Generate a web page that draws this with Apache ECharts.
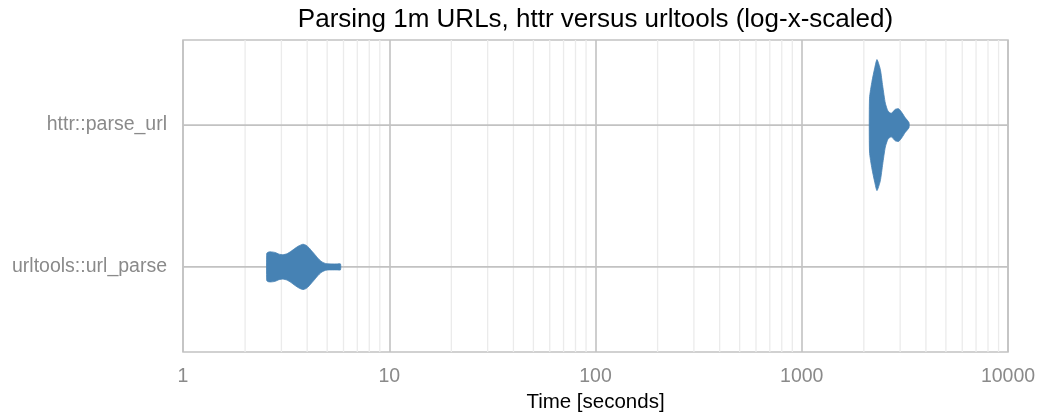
<!DOCTYPE html>
<html>
<head>
<meta charset="utf-8">
<script src="https://cdn.jsdelivr.net/npm/echarts@6/dist/echarts.min.js"></script>
<style>
html,body{margin:0;padding:0;background:#fff;}
#chart{width:1038px;height:412px;}
</style>
</head>
<body>
<div id="chart"></div>
<script>
// ---- data ----
const categories = ['urltools::url_parse', 'httr::parse_url'];
// violin outlines: time (seconds) and half-width (in category units)
const urltoolsTime  = [2.546, 2.584, 2.671, 2.793, 2.921, 3.054, 3.194, 3.340, 3.492, 3.651, 3.818, 3.948, 4.082, 4.222, 4.365, 4.513, 4.668, 4.826, 4.991, 5.278, 5.580, 5.802];
const urltoolsWidth = [0.095, 0.104, 0.106, 0.102, 0.090, 0.086, 0.093, 0.110, 0.131, 0.149, 0.160, 0.153, 0.135, 0.110, 0.086, 0.061, 0.040, 0.028, 0.022, 0.021, 0.021, 0.021];
const httrTime  = [2131, 2191, 2258, 2316, 2404, 2469, 2542, 2619, 2718, 2842, 2952, 3063, 3178, 3311];
const httrWidth = [0.190, 0.310, 0.402, 0.462, 0.393, 0.275, 0.155, 0.099, 0.083, 0.111, 0.115, 0.087, 0.051, 0.018];
const xTicks = [1, 10, 100, 1000, 10000];
const xMinorTicks = [2, 3, 4, 5, 6, 7, 8, 9, 20, 30, 40, 50, 60, 70, 80, 90, 200, 300, 400, 500, 600, 700, 800, 900, 2000, 3000, 4000, 5000, 6000, 7000, 8000, 9000];
const title = 'Parsing 1m URLs, httr versus urltools (log-x-scaled)';
const xName = 'Time [seconds]';

// category slots (ggplot-like expansion: 0.6 units each side)
const catPos = [3, 8];
const violins = [
  {time: urltoolsTime, width: urltoolsWidth},
  {time: httrTime, width: httrWidth}
];

const FONT = '"Liberation Sans", Arial, Helvetica, sans-serif';
const chart = echarts.init(document.getElementById('chart'));

chart.setOption({
  animation: false,
  backgroundColor: '#ffffff',
  graphic: [{
    type: 'text',
    x: 595.5, y: 20,
    style: {text: title, font: '26px ' + FONT, fill: '#000', align: 'center', verticalAlign: 'middle'}
  }],
  grid: {left: 183, right: 30, top: 40, bottom: 60, show: true, borderColor: '#c2c2c2', borderWidth: 1.5,
    backgroundColor: 'transparent', containLabel: false, outerBoundsMode: 'none'},
  xAxis: {
    type: 'log', logBase: 10, min: xTicks[0], max: xTicks[xTicks.length - 1],
    axisLine: {show: false}, axisTick: {show: false},
    splitLine: {show: true, lineStyle: {color: '#c2c2c2', width: 1.6}},
    axisLabel: {color: '#8a8a8a', fontSize: 19.5, fontFamily: FONT, margin: 15,
      formatter: v => String(Math.round(v))},
    name: xName, nameLocation: 'middle', nameGap: 37,
    nameTextStyle: {color: '#000', fontSize: 20.5, fontFamily: FONT}
  },
  yAxis: {
    type: 'value', min: 0, max: 11, interval: 1,
    axisLine: {show: false}, axisTick: {show: false}, splitLine: {show: false},
    axisLabel: {color: '#8a8a8a', fontSize: 19.5, fontFamily: FONT, margin: 16,
      formatter: v => { const i = catPos.indexOf(Math.round(v)); return i >= 0 ? categories[i] : ''; }}
  },
  series: [
    {
      type: 'custom', z: 1, silent: true,
      data: xMinorTicks.map(v => [v]),
      renderItem: (params, api) => {
        const cs = params.coordSys;
        const x = api.coord([api.value(0), 0])[0];
        return {type: 'line', shape: {x1: x, y1: cs.y, x2: x, y2: cs.y + cs.height},
          style: {stroke: '#ebebeb', lineWidth: 1.3}};
      }
    },
    {
      type: 'custom', z: 2, silent: true,
      data: catPos.map(p => [p]),
      renderItem: (params, api) => {
        const cs = params.coordSys;
        const y = api.coord([1, api.value(0)])[1];
        return {type: 'line', shape: {x1: cs.x, y1: y, x2: cs.x + cs.width, y2: y},
          style: {stroke: '#c2c2c2', lineWidth: 1.6}};
      }
    },
    {
      type: 'custom', z: 3,
      data: catPos.map((p, i) => [i, p]),
      renderItem: (params, api) => {
        const vi = api.value(0), yPos = api.value(1);
        const v = violins[vi];
        const unit = api.coord([1, yPos])[1] - api.coord([1, yPos + 5])[1];
        const top = [], bottom = [];
        for (let k = 0; k < v.time.length; k++) {
          const p = api.coord([v.time[k], yPos]);
          const h = v.width[k] * unit;
          top.push([p[0], p[1] - h]);
          bottom.unshift([p[0], p[1] + h]);
        }
        return {type: 'polygon', shape: {points: top.concat(bottom), smooth: 0.2},
          style: {fill: '#4682B4', stroke: '#4682B4', lineWidth: 0.8}};
      }
    }
  ]
});
</script>
</body>
</html>
